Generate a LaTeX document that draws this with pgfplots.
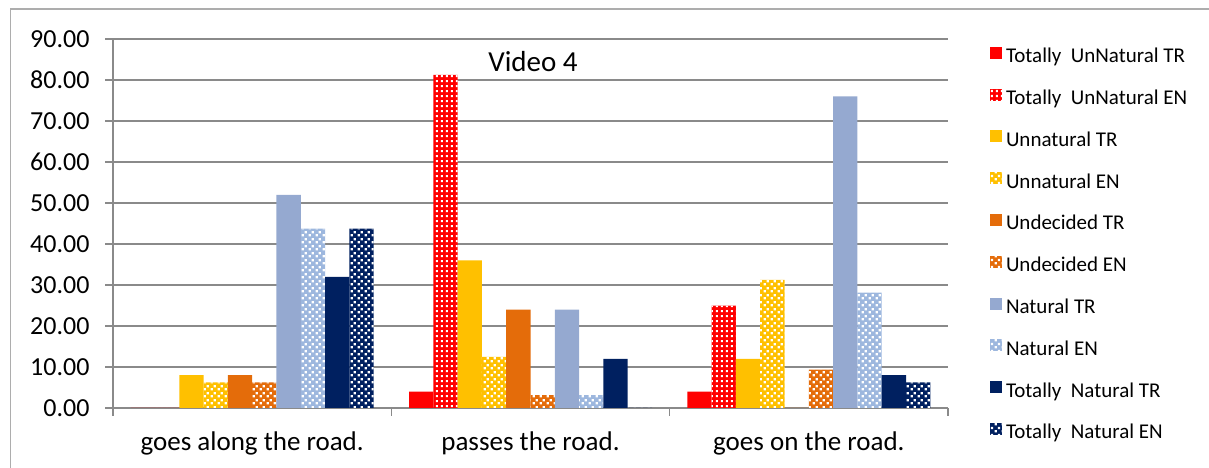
\documentclass[border=0pt]{standalone}
\usepackage{fontspec}
\setmainfont{Carlito}
\usepackage{pgfplots}
\usepackage{pgfplotstable}
\pgfplotsset{compat=1.18}
\usetikzlibrary{patterns}

% white fill-in patterns laid over the coloured bars of the EN series
\pgfdeclarepatternformonly{wchecks}{\pgfpointorigin}{\pgfpoint{7pt}{7pt}}{\pgfpoint{7pt}{7pt}}{%
  \pgfpathrectangle{\pgfpoint{0.6pt}{0.6pt}}{\pgfpoint{2.6pt}{2.6pt}}%
  \pgfpathrectangle{\pgfpoint{4.1pt}{4.1pt}}{\pgfpoint{2.6pt}{2.6pt}}%
  \pgfusepath{fill}}
\pgfdeclarepatternformonly{wgrid}{\pgfpointorigin}{\pgfpoint{5pt}{5pt}}{\pgfpoint{5pt}{5pt}}{%
  \pgfpathrectangle{\pgfpoint{1pt}{1pt}}{\pgfpoint{2.4pt}{2.4pt}}%
  \pgfusepath{fill}}

\definecolor{cRed}{HTML}{FF0000}
\definecolor{cYel}{HTML}{FFC000}
\definecolor{cOra}{HTML}{E46C0A}
\definecolor{cBlu}{HTML}{95A9D0}
\definecolor{cBluL}{HTML}{9DB7DE}
\definecolor{cNavy}{HTML}{002060}
\definecolor{gridgray}{HTML}{8A8A8A}

% percentages per answer, TR and EN respondents
\pgfplotstableread{
x TUNTR TUNEN UNTR UNEN UDTR UDEN NTR NEN TNTR TNEN
0 0 0 8 6.25 8 6.25 52 43.75 32 43.75
1 4 81.25 36 12.5 24 3.125 24 3.125 12 0
2 4 25 12 31.25 0 9.375 76 28.125 8 6.25
}\datatable

\begin{document}
\begin{tikzpicture}
\useasboundingbox (0,0) rectangle (1209pt,468pt);
\draw[gridgray!70, line width=1.5pt] (10.5pt,0) -- (10.5pt,459pt) -- (1209pt,459pt);
\begin{axis}[
  at={(113pt,60pt)}, anchor=south west,
  scale only axis, width=835pt, height=369pt,
  ybar=0pt, bar width=24.3pt,
  xmin=-0.5, xmax=2.5, ymin=0, ymax=90,
  xtick={-0.5,0.5,1.5,2.5}, xticklabels={},
  extra x ticks={0,1,2},
  extra x tick labels={goes along the road., passes the road., goes on the road.},
  extra x tick style={major tick length=0pt, xticklabel style={yshift=-20pt}},
  ytick={0,10,...,90},
  ymajorgrids, grid style={gridgray, line width=1.5pt},
  axis x line*=bottom, axis y line*=left,
  axis line style={gridgray, line width=1.5pt, -},
  tick align=outside, major tick length=8pt,
  tick style={gridgray, line width=1.5pt},
  ticklabel style={font=\fontsize{26}{26}\selectfont},
  xticklabel style={font=\fontsize{27}{27}\selectfont},
  yticklabel style={/pgf/number format/fixed, /pgf/number format/fixed zerofill,
    /pgf/number format/precision=2, /pgf/number format/assume math mode=true,
    xshift=-12pt},
  legend image code/.code={\path[#1, draw=none] (0pt,-1pt) rectangle (12pt,11pt);},
  legend style={draw=none, fill=none, inner sep=0pt, outer sep=0pt,
    at={(1.0503,0.979)}, anchor=north west, row sep=20.8pt,
    font=\fontsize{21}{21}\selectfont,
    nodes={inner sep=0pt, text height=15pt, text depth=5pt},
    /tikz/every odd column/.append style={column sep=4pt}},
  legend cell align=left,
]
\addplot[fill=cRed, draw=none] table[x=x,y=TUNTR]{\datatable};
\addplot[fill=cRed, draw=none, postaction={pattern=wgrid, pattern color=white}] table[x=x,y=TUNEN]{\datatable};
\addplot[fill=cYel, draw=none] table[x=x,y=UNTR]{\datatable};
\addplot[fill=cYel, draw=none, postaction={pattern=wchecks, pattern color=white}] table[x=x,y=UNEN]{\datatable};
\addplot[fill=cOra, draw=none] table[x=x,y=UDTR]{\datatable};
\addplot[fill=cOra, draw=none, postaction={pattern=wchecks, pattern color=white}] table[x=x,y=UDEN]{\datatable};
\addplot[fill=cBlu, draw=none] table[x=x,y=NTR]{\datatable};
\addplot[fill=cBluL, draw=none, postaction={pattern=wchecks, pattern color=white}] table[x=x,y=NEN]{\datatable};
\addplot[fill=cNavy, draw=none] table[x=x,y=TNTR]{\datatable};
\addplot[fill=cNavy, draw=none, postaction={pattern=wchecks, pattern color=white}] table[x=x,y=TNEN]{\datatable};
\legend{Totally\ \ UnNatural TR, Totally\ \ UnNatural EN, Unnatural TR, Unnatural EN,
  Undecided TR, Undecided EN, Natural TR, Natural EN, Totally\ \ Natural TR, Totally\ \ Natural EN}
\node[font=\fontsize{29}{29}\selectfont] at (axis description cs:0.503,0.938) {Video 4};
\end{axis}
\end{tikzpicture}
\end{document}
